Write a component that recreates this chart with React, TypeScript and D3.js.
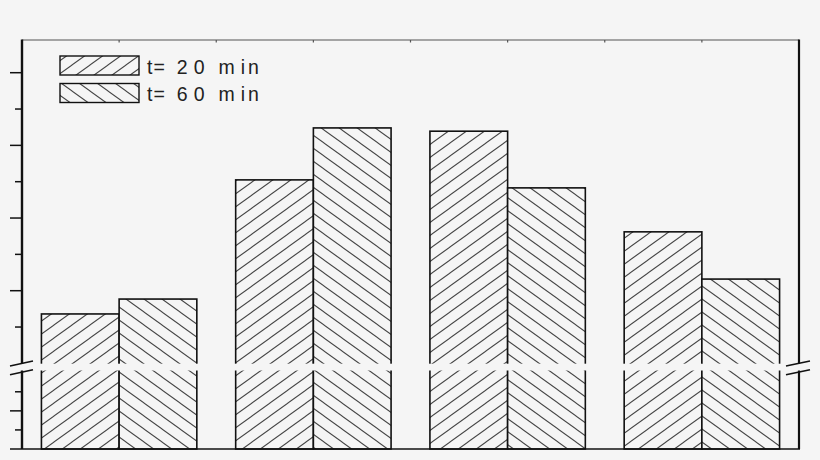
import React, { useEffect, useRef } from 'react';
import * as d3 from 'd3';

// data (arbitrary units, axis is unlabelled)
const categories = ['G1', 'G2', 'G3', 'G4'];
const seriesNames = ['t=20 min', 't=60 min'];
const legendDigits = ['20', '60'];
const values20 = [33.6, 70.5, 83.9, 56.2];
const values60 = [37.7, 84.8, 68.3, 43.2];

// axis ticks (upper segment above break, lower segment below break)
const upperMajor = [40, 60, 80, 100];
const upperMinor = [30, 50, 70, 90];
const lowerMajor = [10];
const lowerMinor = [5, 15];
const topTicks = [1, 2, 3, 4, 5, 6, 7];

const App: React.FC = () => {
    const ref = useRef<SVGSVGElement | null>(null);

    useEffect(() => {
        if (!ref.current) return;
        const width = 820;
        const height = 460;
        const left = 22, right = 799, top = 40, bottom = 449;
        const breakY = 367;
        const bg = '#f5f5f5';

        const svg = d3.select(ref.current)
            .attr('width', width)
            .attr('height', height)
            .attr('viewBox', `0 0 ${width} ${height}`);
        svg.selectAll('*').remove();

        svg.append('rect').attr('width', width).attr('height', height).attr('fill', bg);

        // hatch patterns
        const defs = svg.append('defs');
        const pw = 18, ph = 13;
        const mkPattern = (id: string, forward: boolean) => {
            const p = defs.append('pattern')
                .attr('id', id)
                .attr('patternUnits', 'userSpaceOnUse')
                .attr('width', pw)
                .attr('height', ph);
            p.append('rect').attr('width', pw).attr('height', ph).attr('fill', bg);
            [-ph, 0, ph].forEach(c => {
                if (forward) {
                    p.append('line')
                        .attr('x1', -pw).attr('y1', c + 2 * ph)
                        .attr('x2', 2 * pw).attr('y2', c - ph);
                } else {
                    p.append('line')
                        .attr('x1', -pw).attr('y1', c - ph)
                        .attr('x2', 2 * pw).attr('y2', c + 2 * ph);
                }
            });
            p.selectAll('line').attr('stroke', '#444').attr('stroke-width', 1.05);
        };
        mkPattern('hatch20', true);
        mkPattern('hatch60', false);
        const fills = ['url(#hatch20)', 'url(#hatch60)'];

        const x = d3.scaleBand<string>()
            .domain(categories)
            .range([left, right])
            .paddingInner(0.2)
            .paddingOuter(0.1);
        const xSub = d3.scaleBand<string>()
            .domain(seriesNames)
            .range([0, x.bandwidth()]);
        const xLin = d3.scaleLinear().domain([0, 8]).range([left, right]);

        const yUpper = d3.scaleLinear().domain([19, 109]).range([breakY, top]);
        const yLower = d3.scaleLinear().domain([0, 21.5]).range([bottom, breakY]);

        // bars
        const rows = categories.flatMap((c, i) => [
            { cat: c, s: seriesNames[0], v: values20[i], k: 0 },
            { cat: c, s: seriesNames[1], v: values60[i], k: 1 },
        ]);
        svg.append('g')
            .selectAll('rect')
            .data(rows)
            .join('rect')
            .attr('x', d => (x(d.cat) || 0) + (xSub(d.s) || 0))
            .attr('y', d => yUpper(d.v))
            .attr('width', xSub.bandwidth())
            .attr('height', d => bottom - yUpper(d.v))
            .attr('fill', d => fills[d.k])
            .attr('stroke', '#111')
            .attr('stroke-width', 1.6);

        // frame
        svg.append('line')
            .attr('x1', left).attr('x2', right)
            .attr('y1', top).attr('y2', top)
            .attr('stroke', '#555').attr('stroke-width', 1.2);
        svg.append('g')
            .selectAll('line')
            .data(topTicks)
            .join('line')
            .attr('x1', d => xLin(d)).attr('x2', d => xLin(d))
            .attr('y1', top).attr('y2', top + 2.5)
            .attr('stroke', '#555').attr('stroke-width', 1.2);
        svg.append('line')
            .attr('x1', left).attr('x2', left)
            .attr('y1', top - 0.6).attr('y2', bottom)
            .attr('stroke', '#111').attr('stroke-width', 2.4);
        svg.append('line')
            .attr('x1', right).attr('x2', right)
            .attr('y1', top - 0.6).attr('y2', bottom)
            .attr('stroke', '#111').attr('stroke-width', 2.2);
        svg.append('line')
            .attr('x1', 10).attr('x2', right + 1)
            .attr('y1', bottom).attr('y2', bottom)
            .attr('stroke', '#111').attr('stroke-width', 1.5);

        // left ticks
        const tickG = svg.append('g').attr('stroke', '#111').attr('stroke-width', 1.5);
        const addTicks = (vals: number[], sc: d3.ScaleLinear<number, number>, len: number) => {
            tickG.append('g')
                .selectAll('line')
                .data(vals)
                .join('line')
                .attr('x1', left - len).attr('x2', left)
                .attr('y1', d => sc(d)).attr('y2', d => sc(d));
        };
        addTicks(upperMajor, yUpper, 12);
        addTicks(upperMinor, yUpper, 7);
        addTicks(lowerMajor, yLower, 12);
        addTicks(lowerMinor, yLower, 7);

        // axis break band
        svg.append('rect')
            .attr('x', 8).attr('y', breakY - 3.3)
            .attr('width', 806).attr('height', 6.8)
            .attr('fill', bg);
        const breakG = svg.append('g').attr('stroke', '#111').attr('stroke-width', 1.6);
        [[10, 33], [786, 810]].forEach(([a, b]) => {
            [-1, 7.8].forEach(off => {
                breakG.append('line')
                    .attr('x1', a).attr('y1', breakY + off)
                    .attr('x2', b).attr('y2', breakY + off - 5);
            });
        });

        // legend (spaced like the original typesetting)
        const legend = svg.append('g');
        seriesNames.forEach((name, i) => {
            const ly = 56 + i * 27.5;
            legend.append('rect')
                .attr('x', 60).attr('y', ly)
                .attr('width', 79).attr('height', 19)
                .attr('fill', fills[i])
                .attr('stroke', '#111').attr('stroke-width', 1.4);
            const t = legend.append('text')
                .attr('x', 147).attr('y', ly + 17.5)
                .attr('font-family', 'Liberation Sans, Arial, sans-serif')
                .attr('font-size', 19.5)
                .attr('fill', '#222');
            t.append('tspan').attr('letter-spacing', 1).text('t=');
            t.append('tspan').attr('dx', 11).attr('letter-spacing', 6).text(legendDigits[i]);
            t.append('tspan').attr('dx', 8).text('m');
            t.append('tspan').attr('dx', 6).attr('letter-spacing', 3).text('in');
        });
    }, []);

    return (
        <svg
            ref={ref}
            style={{ position: 'absolute', left: 0, top: 0, display: 'block' }}
        ></svg>
    );
};

export default App;
